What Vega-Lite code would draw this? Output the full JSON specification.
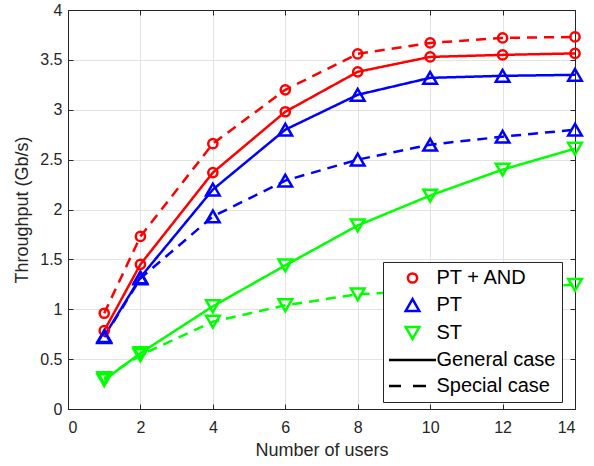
{
  "$schema": "https://vega.github.io/schema/vega-lite/v6.json",
  "autosize": {"type": "none"},
  "width": 507,
  "height": 399,
  "padding": {"left": 68, "top": 10, "right": 19, "bottom": 57},
  "background": "white",
  "config": {
    "view": {"stroke": "#262626", "strokeWidth": 1},
    "font": "Liberation Sans",
    "axis": {
      "labelFont": "Liberation Sans",
      "titleFont": "Liberation Sans",
      "labelColor": "#262626",
      "titleColor": "#262626",
      "domainColor": "#262626",
      "tickColor": "#262626",
      "gridColor": "#e3e3e3",
      "labelFontSize": 16,
      "titleFontSize": 18,
      "titleFontWeight": "normal",
      "tickSize": -5
    }
  },
  "data": {
    "values": [
      {"users": 1, "tp": 0.785, "series": "PT + AND", "case": "General case"},
      {"users": 2, "tp": 1.45, "series": "PT + AND", "case": "General case"},
      {"users": 4, "tp": 2.37, "series": "PT + AND", "case": "General case"},
      {"users": 6, "tp": 2.98, "series": "PT + AND", "case": "General case"},
      {"users": 8, "tp": 3.38, "series": "PT + AND", "case": "General case"},
      {"users": 10, "tp": 3.53, "series": "PT + AND", "case": "General case"},
      {"users": 12, "tp": 3.55, "series": "PT + AND", "case": "General case"},
      {"users": 14, "tp": 3.565, "series": "PT + AND", "case": "General case"},
      {"users": 1, "tp": 0.96, "series": "PT + AND", "case": "Special case"},
      {"users": 2, "tp": 1.73, "series": "PT + AND", "case": "Special case"},
      {"users": 4, "tp": 2.66, "series": "PT + AND", "case": "Special case"},
      {"users": 6, "tp": 3.2, "series": "PT + AND", "case": "Special case"},
      {"users": 8, "tp": 3.56, "series": "PT + AND", "case": "Special case"},
      {"users": 10, "tp": 3.67, "series": "PT + AND", "case": "Special case"},
      {"users": 12, "tp": 3.72, "series": "PT + AND", "case": "Special case"},
      {"users": 14, "tp": 3.73, "series": "PT + AND", "case": "Special case"},
      {"users": 1, "tp": 0.73, "series": "PT", "case": "General case"},
      {"users": 2, "tp": 1.32, "series": "PT", "case": "General case"},
      {"users": 4, "tp": 2.2, "series": "PT", "case": "General case"},
      {"users": 6, "tp": 2.8, "series": "PT", "case": "General case"},
      {"users": 8, "tp": 3.15, "series": "PT", "case": "General case"},
      {"users": 10, "tp": 3.32, "series": "PT", "case": "General case"},
      {"users": 12, "tp": 3.34, "series": "PT", "case": "General case"},
      {"users": 14, "tp": 3.35, "series": "PT", "case": "General case"},
      {"users": 1, "tp": 0.72, "series": "PT", "case": "Special case"},
      {"users": 2, "tp": 1.31, "series": "PT", "case": "Special case"},
      {"users": 4, "tp": 1.93, "series": "PT", "case": "Special case"},
      {"users": 6, "tp": 2.29, "series": "PT", "case": "Special case"},
      {"users": 8, "tp": 2.5, "series": "PT", "case": "Special case"},
      {"users": 10, "tp": 2.65, "series": "PT", "case": "Special case"},
      {"users": 12, "tp": 2.73, "series": "PT", "case": "Special case"},
      {"users": 14, "tp": 2.8, "series": "PT", "case": "Special case"},
      {"users": 1, "tp": 0.29, "series": "ST", "case": "General case"},
      {"users": 2, "tp": 0.56, "series": "ST", "case": "General case"},
      {"users": 4, "tp": 1.03, "series": "ST", "case": "General case"},
      {"users": 6, "tp": 1.44, "series": "ST", "case": "General case"},
      {"users": 8, "tp": 1.84, "series": "ST", "case": "General case"},
      {"users": 10, "tp": 2.14, "series": "ST", "case": "General case"},
      {"users": 12, "tp": 2.4, "series": "ST", "case": "General case"},
      {"users": 14, "tp": 2.61, "series": "ST", "case": "General case"},
      {"users": 1, "tp": 0.31, "series": "ST", "case": "Special case"},
      {"users": 2, "tp": 0.54, "series": "ST", "case": "Special case"},
      {"users": 4, "tp": 0.875, "series": "ST", "case": "Special case"},
      {"users": 6, "tp": 1.04, "series": "ST", "case": "Special case"},
      {"users": 8, "tp": 1.15, "series": "ST", "case": "Special case"},
      {"users": 10, "tp": 1.19, "series": "ST", "case": "Special case"},
      {"users": 12, "tp": 1.22, "series": "ST", "case": "Special case"},
      {"users": 14, "tp": 1.245, "series": "ST", "case": "Special case"}
    ]
  },
  "layer": [
    {
      "mark": {"type": "line", "strokeWidth": 2.5},
      "encoding": {
        "x": {
          "field": "users", "type": "quantitative",
          "scale": {"domain": [0, 14], "nice": false},
          "axis": {"title": "Number of users", "values": [0, 2, 4, 6, 8, 10, 12, 14], "grid": true, "labelPadding": 15, "titlePadding": 6}
        },
        "y": {
          "field": "tp", "type": "quantitative",
          "scale": {"domain": [0, 4], "nice": false},
          "axis": {"title": "Throughput (Gb/s)", "values": [0, 0.5, 1, 1.5, 2, 2.5, 3, 3.5, 4], "format": "~g", "grid": true, "labelPadding": 11, "titlePadding": 8}
        },
        "stroke": {
          "field": "series", "type": "nominal",
          "scale": {"domain": ["PT + AND", "PT", "ST"], "range": ["#ff0000", "#0000ff", "#00ff00"]},
          "legend": null
        },
        "strokeDash": {
          "field": "case", "type": "nominal",
          "scale": {"domain": ["General case", "Special case"], "range": [[1, 0], [10, 7]]},
          "legend": null
        },
        "detail": {"field": "case"}
      }
    },
    {
      "mark": {"type": "point", "filled": false, "strokeWidth": 2.5, "opacity": 1},
      "encoding": {
        "x": {"field": "users", "type": "quantitative", "axis": null},
        "y": {"field": "tp", "type": "quantitative", "axis": null},
        "color": {
          "field": "series", "type": "nominal",
          "scale": {"domain": ["PT + AND", "PT", "ST", "General case", "Special case"], "range": ["#ff0000", "#0000ff", "#00ff00", "#000000", "#000000"]},
          "legend": {
            "title": null, "orient": "none", "legendX": 315, "legendY": 252,
            "strokeColor": "#262626", "fillColor": "white", "padding": 6,
            "labelFontSize": 20, "labelFont": "Liberation Sans", "labelColor": "#000000",
            "symbolStrokeWidth": 2.5, "labelOffset": 14, "symbolOffset": 13.5, "rowPadding": 6, "symbolType": "circle"
          }
        },
        "shape": {
          "field": "series", "type": "nominal",
          "scale": {"domain": ["PT + AND", "PT", "ST", "General case", "Special case"], "range": ["circle", "triangle-up", "triangle-down", "M-4.7,0H4.7", "M-4.7,0H-2.3M0.1,0H2.7"]}
        },
        "size": {
          "field": "series", "type": "nominal",
          "scale": {"type": "ordinal", "domain": ["PT + AND", "PT", "ST", "General case", "Special case"], "range": [85, 185, 185, 100, 100]}
        }
      }
    },
    {
      "mark": {"type": "point", "opacity": 0},
      "encoding": {
        "x": {"field": "users", "type": "quantitative", "axis": {"orient": "top", "title": null, "labels": false, "grid": false, "values": [0, 2, 4, 6, 8, 10, 12, 14]}},
        "y": {"field": "tp", "type": "quantitative", "axis": {"orient": "right", "title": null, "labels": false, "grid": false, "values": [0, 0.5, 1, 1.5, 2, 2.5, 3, 3.5, 4]}}
      }
    }
  ],
  "resolve": {"axis": {"x": "independent", "y": "independent"}}
}
